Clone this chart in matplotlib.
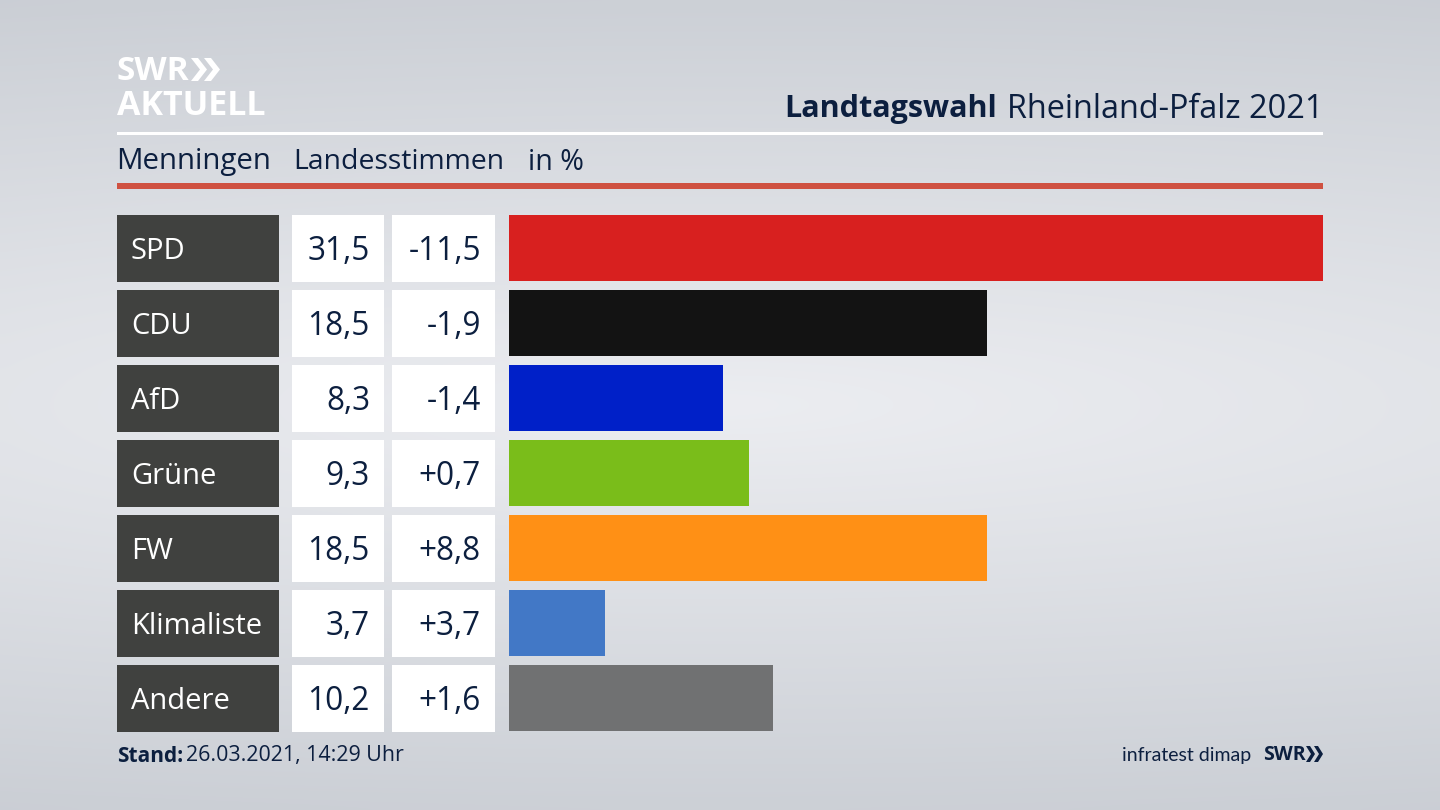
import numpy as np
import matplotlib
matplotlib.use("Agg")
import matplotlib.pyplot as plt
from matplotlib.patches import Rectangle, Polygon

parties = ["SPD", "CDU", "AfD", "Grüne", "FW", "Klimaliste", "Andere"]
values = [31.5, 18.5, 8.3, 9.3, 18.5, 3.7, 10.2]
changes = ["-11,5", "-1,9", "-1,4", "+0,7", "+8,8", "+3,7", "+1,6"]
colors = ["#d8201f", "#131313", "#0020c8", "#7abd1a", "#ff9015", "#4278c6", "#707172"]

FONT = "Open Sans"
NAVY = "#0c1f3f"
W, H = 1440, 810
fig = plt.figure(figsize=(W/100, H/100), dpi=100)

bg = fig.add_axes([0, 0, 1, 1], zorder=0)
bg.set_xlim(0, W); bg.set_ylim(H, 0); bg.axis("off")
xx, yy = np.meshgrid(np.linspace(-1, 1, 160), np.linspace(-1, 1, 90))
r = np.clip(np.sqrt((xx*0.3)**2 + (yy)**2), 0, 1.1)
c0, c1 = np.array([0.925, 0.93, 0.945]), np.array([0.795, 0.81, 0.835])
grad = c0[None, None, :] + (c1 - c0)[None, None, :]*(r[..., None]/1.05)
bg.imshow(np.clip(grad, 0, 1), extent=[0, W, H, 0], aspect="auto", interpolation="bicubic")
bg.set_xlim(0, W); bg.set_ylim(H, 0)


def box(x, y, w, h, color):
    bg.add_patch(Rectangle((x, y), w, h, facecolor=color, edgecolor="none", linewidth=0))


def chevrons(xs, top, bottom, w, thick, color):
    mid = (top + bottom) / 2
    for x0 in xs:
        bg.add_patch(Polygon([(x0, top), (x0+thick, top), (x0+thick+w, mid),
                              (x0+thick, bottom), (x0, bottom), (x0+w, mid)],
                             facecolor=color, edgecolor="none", linewidth=0))


# header
box(117, 132, 1206, 3, "white")
box(117, 183, 1206, 6, "#cf5141")
bg.text(117, 72, "SWR", fontsize=24, fontweight="bold", color="white", family=FONT, va="center")
bg.text(117, 106, "AKTUELL", fontsize=24.5, fontweight="bold", color="white", family=FONT, va="center")
chevrons((191, 204), 58, 81, 9, 7, "white")
bg.text(1323, 109, "Rheinland-Pfalz 2021", fontsize=23.4, color=NAVY, family=FONT, ha="right", va="center")
bg.text(997, 109, "Landtagswahl", fontsize=22, fontweight="bold", color=NAVY, family=FONT, ha="right", va="center")
for x, s, fs in [(116, "Menningen", 21.2), (293, "Landesstimmen", 20.4), (528, "in %", 20.6)]:
    bg.text(x, 162, s, fontsize=fs, color=NAVY, family=FONT, va="center")

# rows: bar chart axes spans x 509..1323 px, y 215..731 px
ax = fig.add_axes([509/W, 1-731/H, (1323-509)/W, (731-215)/H], zorder=1)
ax.patch.set_alpha(0)
ax.set_xlim(0, 31.5); ax.set_ylim(6.44, -0.44)
ax.axis("off")
y = np.arange(len(parties))
ax.barh(y, values, height=0.88, color=colors, linewidth=0)

tops = [215, 290, 365, 440, 515, 590, 665]
for i, p in enumerate(parties):
    top = tops[i]; h = 66.5; mid = top + h/2
    box(117, top, 162, h, "#40413f")
    box(292, top, 92, h, "white")
    box(392, top, 103, h, "white")
    bg.text(131, mid + 3, p, fontsize=21, color="white", family=FONT, va="center")
    bg.text(370, mid + 3, f"{values[i]:.1f}".replace(".", ","), fontsize=22.7, color=NAVY, family=FONT, ha="right", va="center")
    bg.text(481, mid + 3, changes[i], fontsize=22.7, color=NAVY, family=FONT, ha="right", va="center")

# footer
bg.text(117, 756, "Stand:", fontsize=15, fontweight="bold", color=NAVY, family=FONT, va="center")
bg.text(186, 756, "26.03.2021, 14:29 Uhr", fontsize=15.4, color=NAVY, family=FONT, va="center")
bg.text(1251, 755, "infratest dimap", fontsize=14, color=NAVY, family="Lato", ha="right", va="center")
bg.text(1263, 755, "SWR", fontsize=14, fontweight="bold", color=NAVY, family=FONT, va="center")
chevrons((1306, 1314), 746, 762, 5, 4, NAVY)

fig.savefig("out.png", dpi=100)
